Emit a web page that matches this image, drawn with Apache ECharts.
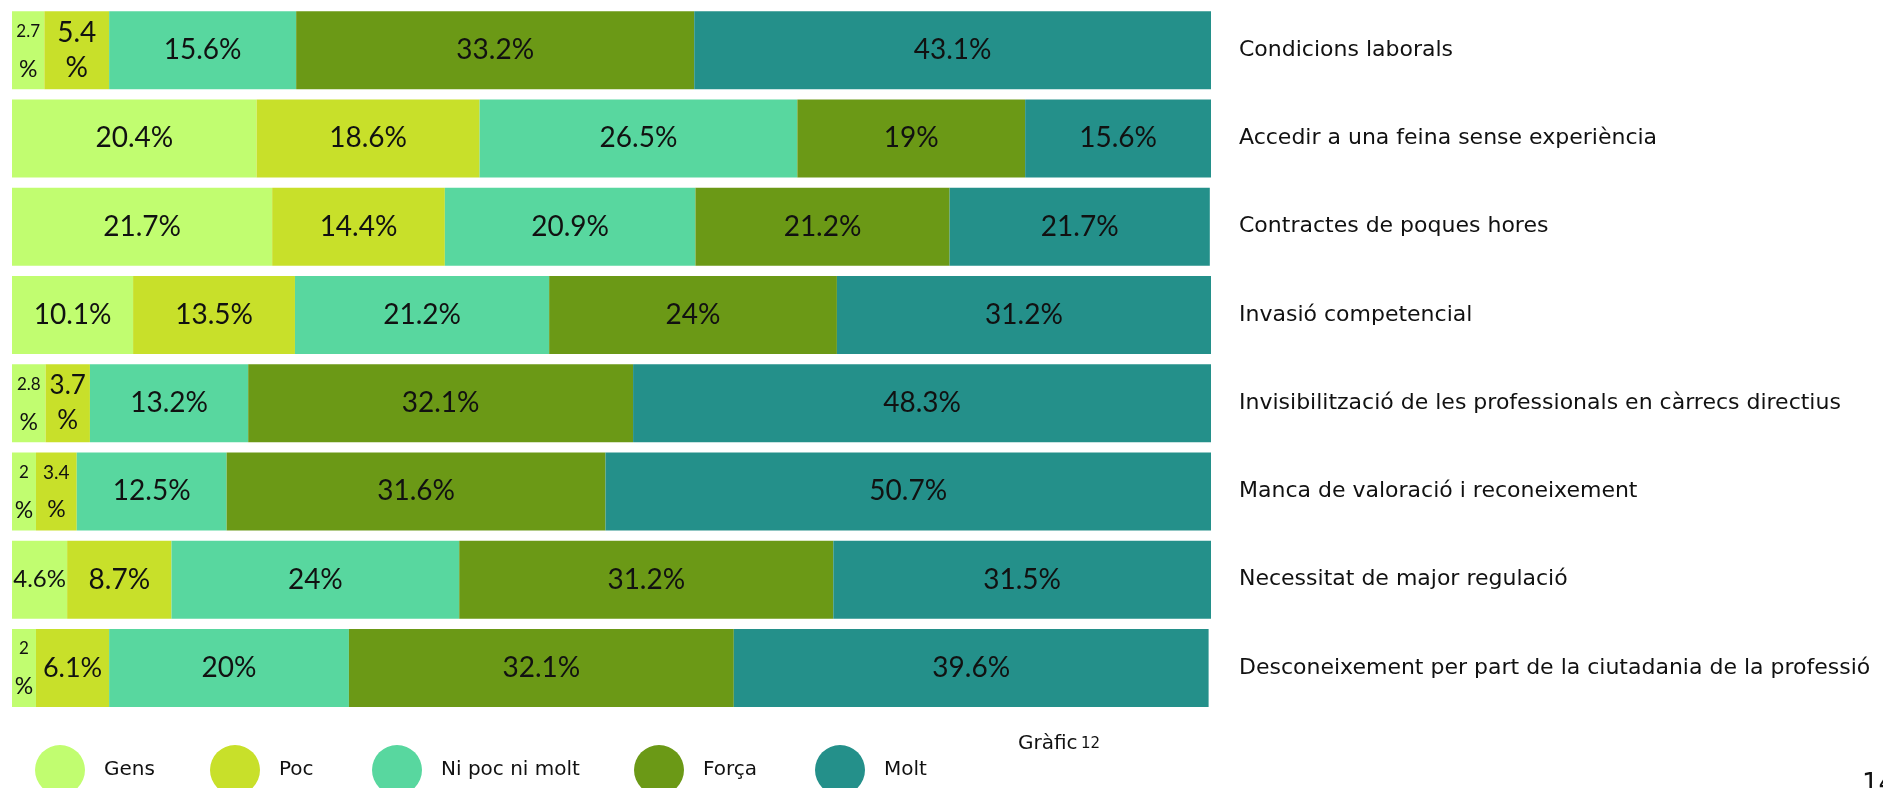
<!DOCTYPE html>
<html>
<head>
<meta charset="utf-8">
<script src="https://cdn.jsdelivr.net/npm/echarts@6/dist/echarts.min.js"></script>
<style>
html,body{margin:0;padding:0;background:#fff;}
#chart{width:1883px;height:788px;}
</style>
</head>
<body>
<div id="chart"></div>
<script>
const categories = [
  'Condicions laborals',
  'Accedir a una feina sense experiència',
  'Contractes de poques hores',
  'Invasió competencial',
  'Invisibilització de les professionals en càrrecs directius',
  'Manca de valoració i reconeixement',
  'Necessitat de major regulació',
  'Desconeixement per part de la ciutadania de la professió'
];
const seriesNames = ['Gens', 'Poc', 'Ni poc ni molt', 'Força', 'Molt'];
const gens  = [2.7, 20.4, 21.7, 10.1, 2.8, 2, 4.6, 2];
const poc   = [5.4, 18.6, 14.4, 13.5, 3.7, 3.4, 8.7, 6.1];
const ni    = [15.6, 26.5, 20.9, 21.2, 13.2, 12.5, 24, 20];
const forca = [33.2, 19, 21.2, 24, 32.1, 31.6, 31.2, 32.1];
const molt  = [43.1, 15.6, 21.7, 31.2, 48.3, 50.7, 31.5, 39.6];
const seriesValues = [gens, poc, ni, forca, molt];
const colors = ['#c1fd70', '#c8e02a', '#58d79f', '#6b9916', '#24908a'];

const VALUE_FONT = 'Lato, "Open Sans", sans-serif';
const TEXT_FONT = '"DejaVu Sans", "Open Sans", sans-serif';

function fmt(p) {
  const v = p.value;
  if (v < 3) return '{n17|' + v + '}\n{p22|%}';
  if (v < 3.5) return '{n19|' + v + '}\n{p22|%}';
  if (v < 4) return '{n26|' + v + '}\n{n26|%}';
  if (v < 5) return '{n22|' + v + '%}';
  if (v < 6) return '{n28|' + v + '}\n{n28|%}';
  if (v < 7) return '{n24|' + v + '%}';
  return '{n28|' + v + '%}';
}
const rich = {
  n17: {fontSize: 17, lineHeight: 38, fontFamily: VALUE_FONT, color: '#111'},
  n19: {fontSize: 19, lineHeight: 36, fontFamily: VALUE_FONT, color: '#111'},
  p22: {fontSize: 23, lineHeight: 38, fontFamily: VALUE_FONT, color: '#111'},
  n22: {fontSize: 24, lineHeight: 36, fontFamily: VALUE_FONT, color: '#111'},
  n24: {fontSize: 27, lineHeight: 36, fontFamily: VALUE_FONT, color: '#111'},
  n26: {fontSize: 26, lineHeight: 35, fontFamily: VALUE_FONT, color: '#111'},
  n28: {fontSize: 28, lineHeight: 35, fontFamily: VALUE_FONT, color: '#111'}
};

const series = seriesNames.map((name, i) => ({
  name: name,
  type: 'bar',
  stack: 'total',
  barWidth: 78,
  itemStyle: {color: colors[i]},
  label: {show: true, position: 'inside', formatter: fmt, rich: rich, color: '#111'},
  emphasis: {disabled: true},
  data: seriesValues[i]
}));

const legendLefts = [35, 210, 372, 634, 815];
const legends = seriesNames.map((name, i) => ({
  data: [name],
  left: legendLefts[i],
  top: 745,
  padding: 0,
  orient: 'horizontal',
  icon: 'circle',
  itemWidth: 50,
  itemHeight: 50,
  selectedMode: false,
  textStyle: {fontSize: 20, color: '#111', fontFamily: TEXT_FONT, padding: [0, 0, 6, 14]}
}));

const chart = echarts.init(document.getElementById('chart'));
chart.setOption({
  animation: false,
  color: colors,
  grid: {left: 12, right: 672, top: 6, bottom: 76},
  xAxis: {type: 'value', min: 0, max: 100, show: false},
  yAxis: {
    type: 'category',
    data: categories,
    inverse: true,
    position: 'right',
    axisLine: {show: false},
    axisTick: {show: false},
    splitLine: {show: false},
    axisLabel: {
      margin: 28,
      align: 'left',
      fontSize: 22,
      color: '#111',
      fontFamily: TEXT_FONT
    }
  },
  legend: legends,
  graphic: [
    {
      type: 'text',
      left: 1018,
      top: 734,
      style: {
        text: '{a|Gràfic} {b|12}',
        rich: {
          a: {fontSize: 20, fontFamily: TEXT_FONT, fill: '#111'},
          b: {fontSize: 15, fontFamily: TEXT_FONT, fill: '#111'}
        }
      }
    },
    {
      type: 'text',
      left: 1862,
      top: 772,
      style: {text: '14', fontSize: 26, fontFamily: TEXT_FONT, fill: '#111'}
    }
  ],
  series: series
});
</script>
</body>
</html>
